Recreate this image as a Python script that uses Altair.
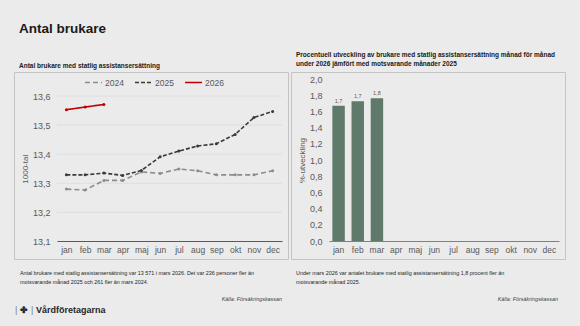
import altair as alt
import pandas as pd

months = ["jan", "feb", "mar", "apr", "maj", "jun", "jul", "aug", "sep", "okt", "nov", "dec"]
years = ["2024", "2025", "2026"]
v2024 = [13.280, 13.277, 13.310, 13.310, 13.339, 13.334, 13.349, 13.343, 13.329, 13.329, 13.329, 13.343]
v2025 = [13.329, 13.329, 13.335, 13.327, 13.344, 13.391, 13.411, 13.428, 13.436, 13.468, 13.526, 13.547]
v2026 = [13.553, 13.562, 13.571]
grid_vals = [13.2, 13.3, 13.4, 13.5, 13.6]
left_ticks = [13.1, 13.2, 13.3, 13.4, 13.5, 13.6]
growth_months = ["jan", "feb", "mar"]
growth = [1.673, 1.728, 1.765]
growth_labels = ["1,7", "1,7", "1,8"]
right_ticks = [0, 0.2, 0.4, 0.6, 0.8, 1.0, 1.2, 1.4, 1.6, 1.8, 2.0]

title_text = "Antal brukare"
left_title = "Antal brukare med statlig assistansersättning"
right_title = ["Procentuell utveckling av brukare med statlig assistansersättning månad för månad",
               "under 2026 jämfört med motsvarande månader 2025"]
left_note = ["Antal brukare med statlig assistansersättning var 13 571 i mars 2026. Det var 236 personer fler än",
             "motsvarande månad 2025 och 261 fler än mars 2024."]
right_note = ["Under mars 2026 var antalet brukare med statlig assistansersättning 1,8 procent fler än",
              "motsvarande månad 2025."]
source = "Källa: Försäkringskassan"
brand = "Vårdföretagarna"

FONT = "Liberation Sans"
W, H = 580, 326

rows = []
for y, vals in zip(years, [v2024, v2025, v2026]):
    for m, v in zip(months, vals):
        rows.append({"month": m, "year": y, "value": v})
lines_df = pd.DataFrame(rows)
grid_df = pd.DataFrame({"value": grid_vals})
bars_df = pd.DataFrame({"month": growth_months, "growth": growth, "label": growth_labels})
one = pd.DataFrame({"a": [0]})

comma = "replace(format(datum.value, '.1f'), '.', ',')"

xl = alt.X("month:N", sort=months,
           scale=alt.Scale(type="point", domain=months, range=[57, 282], padding=0.5),
           axis=alt.Axis(orient="bottom", offset=241 - H, title=None, labelAngle=0,
                         ticks=False, domainColor="#595959", labelColor="#595959",
                         labelFontSize=8.5, labelPadding=4, grid=False, labelFont=FONT))
yl = alt.Y("value:Q", scale=alt.Scale(domain=[13.1, 13.6], range=[241.5, 96], nice=False, zero=False),
           axis=alt.Axis(orient="left", offset=-57, title="1000-tal", values=left_ticks,
                         labelExpr=comma, ticks=False, domain=False, grid=False, labelOverlap=False,
                         labelColor="#595959", labelFontSize=9, labelPadding=7,
                         titleColor="#595959", titleFontSize=8, titleFontWeight="normal",
                         titlePadding=3, labelFont=FONT, titleFont=FONT))

legend = alt.Legend(title=None, orient="none", legendX=84, legendY=73,
                    direction="horizontal", symbolType="stroke",
                    symbolSize=290, symbolStrokeWidth=1.6,
                    labelFontSize=8.5, labelColor="#595959", labelFont=FONT,
                    columnPadding=7, labelOffset=2)

grid = alt.Chart(grid_df).mark_rule(color="#dadada", strokeWidth=0.8).encode(
    y=yl, x=alt.value(57), x2=alt.value(282))

lines = alt.Chart(lines_df).mark_line(
    strokeWidth=1.6, point=alt.OverlayMarkDef(filled=True, size=9)).encode(
    x=xl,
    y=yl,
    color=alt.Color("year:N", scale=alt.Scale(domain=years, range=["#8c8c8c", "#3a3a3a", "#c00000"]),
                    legend=legend),
    strokeDash=alt.StrokeDash("year:N", scale=alt.Scale(domain=years, range=[[5, 3], [4, 2], [1, 0]]),
                              legend=legend),
)

left = alt.layer(grid, lines)

xr = alt.X("month:N", sort=months,
           scale=alt.Scale(type="band", domain=months, range=[329, 559], paddingInner=0.35, paddingOuter=0.175),
           axis=alt.Axis(orient="bottom", offset=241 - H, title=None, labelAngle=0, ticks=False,
                         domainColor="#7f7f7f", labelColor="#595959", labelFontSize=8.5,
                         labelPadding=4, grid=False, labelFont=FONT))
yr = alt.Y("growth:Q", scale=alt.Scale(domain=[0, 2], range=[241, 79.3], nice=False),
           axis=alt.Axis(orient="left", offset=-329, title="%-utveckling", values=right_ticks,
                         labelExpr=comma, ticks=False, domain=False, grid=False, labelOverlap=False,
                         labelColor="#595959", labelFontSize=9, labelPadding=7,
                         titleColor="#595959", titleFontSize=8, titleFontWeight="normal",
                         titlePadding=3, labelFont=FONT, titleFont=FONT))

bars = alt.Chart(bars_df).mark_bar(color="#5f7a6b").encode(x=xr, y=yr)
bar_text = alt.Chart(bars_df).mark_text(fontSize=5.5, color="#595959", dy=-5, font=FONT).encode(
    x=xr, y=yr, text="label:N")
right = alt.layer(bars, bar_text)

boxes = [
    alt.Chart(one).mark_rect(fill=None, stroke="#c4c4c4", strokeWidth=1).encode(
        x=alt.value(14.5), x2=alt.value(288.5), y=alt.value(72.5), y2=alt.value(259.5)),
    alt.Chart(one).mark_rect(fill=None, stroke="#c4c4c4", strokeWidth=1).encode(
        x=alt.value(291.5), x2=alt.value(565.5), y=alt.value(72.5), y2=alt.value(259.5)),
]


def txt(s, x, y, size, weight="normal", style="normal", align="left", color="#1a1a1a"):
    return alt.Chart(one).mark_text(align=align, baseline="alphabetic", fontSize=size,
                                    fontWeight=weight, fontStyle=style, color=color, font=FONT).encode(
        x=alt.value(x), y=alt.value(y), text=alt.value(s))


texts = [
    txt(title_text, 19, 33, 13.5, "bold"),
    txt(left_title, 19, 67.5, 6.5, "bold"),
    txt(right_title[0], 296, 57, 6.5, "bold"),
    txt(right_title[1], 296, 65.5, 6.5, "bold"),
    txt(left_note[0], 20, 274.5, 5.4, color="#262626"),
    txt(left_note[1], 20, 283.5, 5.4, color="#262626"),
    txt(right_note[0], 296, 274.5, 5.4, color="#262626"),
    txt(right_note[1], 296, 283.5, 5.4, color="#262626"),
    txt(source, 282, 301, 5.4, style="italic", align="right", color="#404040"),
    txt(source, 558, 301, 5.4, style="italic", align="right", color="#404040"),
    txt("|", 15, 313, 9, color="#7f7f7f"),
    txt("✤", 20, 313, 9, "bold", color="#262626"),
    txt("|", 31, 313, 9, color="#7f7f7f"),
    txt(brand, 36, 313, 9, "bold", color="#262626"),
]

chart = alt.layer(*boxes, left, right, *texts).resolve_scale(
    x="independent", y="independent"
).properties(
    width=W, height=H, autosize=alt.AutoSizeParams(type="none"), padding=0
).configure(background="#ebebeb").configure_view(stroke=None, fill=None)

chart.save("out.html", embed_options={"renderer": "svg", "actions": False})
